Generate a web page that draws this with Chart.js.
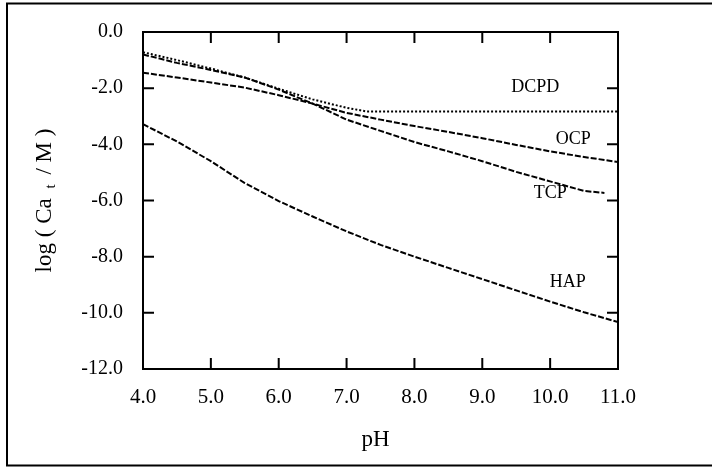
<!DOCTYPE html>
<html>
<head>
<meta charset="utf-8">
<script src="https://cdn.jsdelivr.net/npm/chart.js@4"></script>
<style>
  html, body { margin: 0; padding: 0; background: #fff; }
  #wrap { position: relative; width: 712px; height: 467px; }
</style>
</head>
<body>
<div id="wrap"><canvas id="c" width="712" height="467"></canvas></div>
<script>
// Solubility isotherms of calcium phosphates: log total calcium vs pH
const phGrid = [4.0, 4.5, 5.0, 5.5, 6.0, 6.5, 7.0, 7.5, 8.0, 8.5, 9.0, 9.5, 10.0, 10.5, 11.0];

const dcpdPH  = [4.0, 4.5, 5.0, 5.5, 6.0, 6.5, 7.0, 7.3, 8.0, 9.0, 10.0, 11.0];
const dcpdLog = [-0.72, -1.0, -1.3, -1.62, -2.02, -2.4, -2.7, -2.83, -2.83, -2.83, -2.83, -2.83];

const ocpPH  = phGrid;
const ocpLog = [-1.45, -1.62, -1.8, -1.98, -2.25, -2.55, -2.88, -3.12, -3.35, -3.56, -3.78, -4.02, -4.25, -4.45, -4.63];

const tcpPH  = [4.0, 4.5, 5.0, 5.5, 6.0, 6.5, 7.0, 7.5, 8.0, 8.5, 9.0, 9.5, 10.0, 10.5, 10.8];
const tcpLog = [-0.8, -1.1, -1.35, -1.62, -2.05, -2.55, -3.12, -3.52, -3.92, -4.25, -4.6, -4.98, -5.32, -5.66, -5.73];

const hapPH  = phGrid;
const hapLog = [-3.28, -3.9, -4.6, -5.38, -6.02, -6.57, -7.1, -7.58, -8.0, -8.4, -8.8, -9.2, -9.6, -9.98, -10.33];

// Curve names and where they sit (pH, log value)
const curveNames = ['DCPD', 'OCP', 'TCP', 'HAP'];
const namePH     = [9.78, 10.34, 10.0, 10.26];
const nameLog    = [-1.96, -3.81, -5.73, -8.9];

const xTicks = [4, 5, 6, 7, 8, 9, 10, 11];
const yTicks = [0, -2, -4, -6, -8, -10, -12];

const SERIF = '"Liberation Serif", "Times New Roman", serif';

function pts(xs, ys) { return xs.map((x, i) => ({ x: x, y: ys[i] })); }

const frame = {
  id: 'frame',
  beforeDraw(chart) {
    const ctx = chart.ctx;
    ctx.save();
    ctx.strokeStyle = '#000';
    ctx.lineWidth = 2;
    ctx.beginPath();
    ctx.moveTo(712, 3.5); ctx.lineTo(7, 3.5); ctx.lineTo(7, 465.5); ctx.lineTo(712, 465.5);
    ctx.stroke();
    ctx.restore();
  },
  afterDraw(chart) {
    const ctx = chart.ctx, a = chart.chartArea;
    const xs = chart.scales.x, ys = chart.scales.y;
    const TL = 11;
    ctx.save();
    ctx.strokeStyle = '#000';
    ctx.lineWidth = 2;
    ctx.lineCap = 'butt';
    ctx.beginPath();
    ctx.rect(a.left, a.top, a.right - a.left, a.bottom - a.top);
    // inward ticks on all four sides
    xTicks.forEach(v => {
      const px = xs.getPixelForValue(v);
      ctx.moveTo(px, a.bottom); ctx.lineTo(px, a.bottom - TL);
      ctx.moveTo(px, a.top); ctx.lineTo(px, a.top + TL);
    });
    yTicks.forEach(v => {
      const py = ys.getPixelForValue(v);
      ctx.moveTo(a.left, py); ctx.lineTo(a.left + TL, py);
      ctx.moveTo(a.right, py); ctx.lineTo(a.right - TL, py);
    });
    ctx.stroke();

    // curve names
    ctx.fillStyle = '#000';
    ctx.font = '18px ' + SERIF;
    ctx.textAlign = 'center';
    ctx.textBaseline = 'middle';
    curveNames.forEach((n, i) => {
      ctx.fillText(n, xs.getPixelForValue(namePH[i]), ys.getPixelForValue(nameLog[i]));
    });

    // x-axis title
    ctx.font = '23px ' + SERIF;
    ctx.fillText('pH', (a.left + a.right) / 2 - 5, a.bottom + 71);

    // y-axis title with subscript t
    ctx.translate(45, (a.top + a.bottom) / 2);
    ctx.rotate(-Math.PI / 2);
    ctx.textAlign = 'left';
    ctx.textBaseline = 'middle';
    const big = '23px ' + SERIF, small = '15px ' + SERIF;
    const p1 = 'log ( Ca ', p2 = 't', p3 = ' / M )';
    ctx.font = big;
    const w1 = ctx.measureText(p1).width, w3 = ctx.measureText(p3).width;
    ctx.font = small;
    const w2 = ctx.measureText(p2).width + 8;
    let x0 = -(w1 + w2 + w3) / 2;
    ctx.font = big;
    ctx.fillText(p1, x0, 0);
    ctx.font = small;
    ctx.fillText(p2, x0 + w1 + 4, 6);
    ctx.font = big;
    ctx.fillText(p3, x0 + w1 + w2, 0);
    ctx.restore();
  }
};

const common = { fill: false, pointRadius: 0, borderColor: '#000', borderWidth: 2, tension: 0 };

new Chart(document.getElementById('c'), {
  type: 'line',
  data: {
    datasets: [
      Object.assign({ label: 'DCPD', data: pts(dcpdPH, dcpdLog), borderDash: [2, 2] }, common),
      Object.assign({ label: 'OCP',  data: pts(ocpPH, ocpLog),   borderDash: [6, 2] }, common),
      Object.assign({ label: 'TCP',  data: pts(tcpPH, tcpLog),   borderDash: [6, 2] }, common),
      Object.assign({ label: 'HAP',  data: pts(hapPH, hapLog),   borderDash: [6, 2] }, common)
    ]
  },
  options: {
    responsive: false,
    animation: false,
    events: [],
    layout: { padding: { left: 0, top: 32, right: 94, bottom: 0 } },
    plugins: { legend: { display: false }, tooltip: { enabled: false } },
    scales: {
      x: {
        type: 'linear', min: 4, max: 11,
        afterFit(s) { s.height = 98; },
        grid: { display: false, drawTicks: false },
        border: { display: false },
        ticks: {
          stepSize: 1, padding: 16, color: '#000', maxRotation: 0,
          font: { family: SERIF, size: 21 },
          callback: v => Number(v).toFixed(1)
        }
      },
      y: {
        type: 'linear', min: -12, max: 0,
        afterFit(s) { s.width = 143; },
        grid: { display: false, drawTicks: false },
        border: { display: false },
        ticks: {
          stepSize: 2, padding: 20, color: '#000',
          font: { family: SERIF, size: 20 },
          callback: v => Number(v).toFixed(1)
        }
      }
    }
  },
  plugins: [frame]
});
</script>
</body>
</html>
